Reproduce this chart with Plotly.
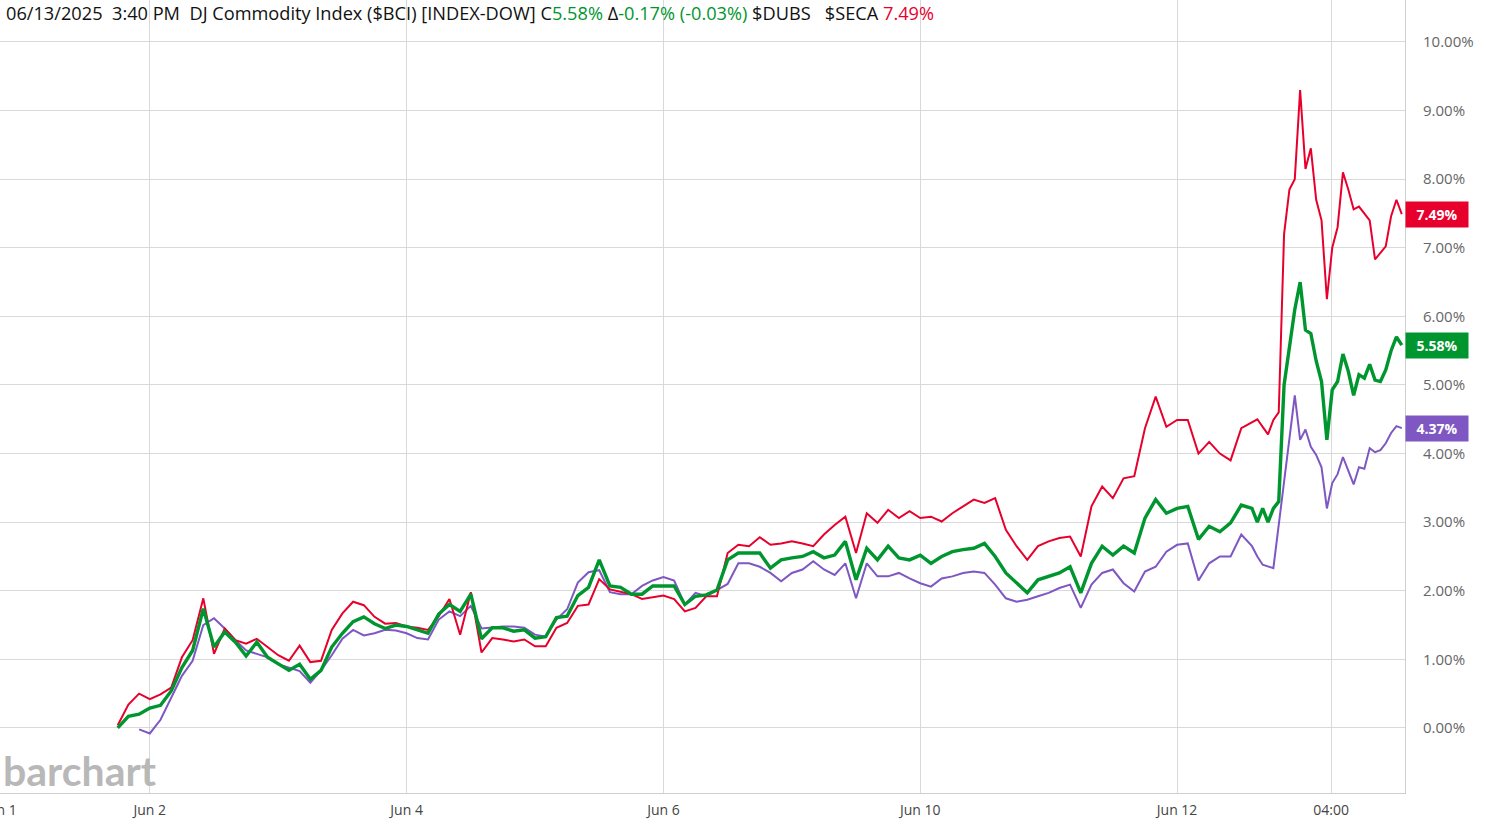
"""
Barchart-style % change comparison: $BCI vs $DUBS vs $SECA (Jun 1 - Jun 13, 2025).
"""

import plotly.graph_objects as go

# ── Theme ────────────────────────────────────────────────────────────────────
RED    = "#e8002d"
GREEN  = "#00962f"
PURPLE = "#7e57c2"
GRID   = "#d9d9d9"
AXIS   = "#cfcfcf"
FONT   = "Open Sans"

# ── Data ─────────────────────────────────────────────────────────────────────
# session hours from Jun 2 00:00 (weekend removed): 2h bars, then 1h bars
hours = list(range(-6, 206, 2)) + list(range(206, 235))

seca = [
    0.04, 0.34, 0.5, 0.42, 0.49, 0.59, 1.03, 1.28, 1.89, 1.08,
    1.45, 1.28, 1.23, 1.3, 1.18, 1.06, 0.98, 1.2, 0.96, 0.98,
    1.43, 1.67, 1.84, 1.79, 1.62, 1.52, 1.53, 1.48, 1.46, 1.43,
    1.63, 1.88, 1.36, 1.98, 1.1, 1.31, 1.29, 1.26, 1.29, 1.19,
    1.19, 1.46, 1.53, 1.78, 1.8, 2.17, 2.02, 1.98, 1.95, 1.88,
    1.9, 1.93, 1.88, 1.7, 1.75, 1.92, 1.92, 2.55, 2.67, 2.65,
    2.78, 2.67, 2.69, 2.72, 2.69, 2.65, 2.82, 2.96, 3.08, 2.55,
    3.13, 2.99, 3.18, 3.06, 3.16, 3.06, 3.08, 3.01, 3.13, 3.23,
    3.33, 3.28, 3.35, 2.89, 2.65, 2.45, 2.65, 2.72, 2.77, 2.79,
    2.5, 3.23, 3.52, 3.35, 3.64, 3.67, 4.37, 4.83, 4.39, 4.49,
    4.49, 4.0, 4.17, 4.0, 3.9, 4.37,
    4.45, 4.5, 4.39, 4.28, 4.49, 4.6, 7.2, 7.85, 8.0, 9.3,
    8.15, 8.45, 7.7, 7.4, 6.25, 7.0, 7.3, 8.1, 7.85, 7.56,
    7.6, 7.5, 7.4, 6.83, 6.93, 7.02, 7.46, 7.7, 7.49,
]

bci = [
    0.0, 0.17, 0.2, 0.29, 0.33, 0.54, 0.88, 1.13, 1.74, 1.18,
    1.4, 1.25, 1.05, 1.25, 1.03, 0.93, 0.84, 0.93, 0.71, 0.84,
    1.18, 1.38, 1.55, 1.62, 1.52, 1.45, 1.5, 1.48, 1.43, 1.38,
    1.66, 1.8, 1.7, 1.95, 1.3, 1.46, 1.46, 1.41, 1.43, 1.31,
    1.33, 1.61, 1.63, 1.93, 2.05, 2.45, 2.07, 2.05, 1.95, 1.95,
    2.07, 2.07, 2.07, 1.8, 1.92, 1.94, 2.01, 2.45, 2.55, 2.55,
    2.55, 2.33, 2.45, 2.48, 2.5, 2.57, 2.48, 2.52, 2.72, 2.16,
    2.62, 2.45, 2.65, 2.48, 2.45, 2.52, 2.4, 2.5, 2.57, 2.6,
    2.62, 2.69, 2.5, 2.26, 2.11, 1.97, 2.16, 2.21, 2.26, 2.35,
    1.97, 2.4, 2.65, 2.52, 2.65, 2.55, 3.06, 3.33, 3.13, 3.2,
    3.23, 2.75, 2.94, 2.86, 2.99, 3.25,
    3.2, 3.0, 3.2, 3.0, 3.2, 3.3, 5.0, 5.55, 6.1, 6.5,
    5.8, 5.75, 5.35, 5.05, 4.2, 4.93, 5.05, 5.45, 5.2, 4.85,
    5.15, 5.1, 5.3, 5.07, 5.05, 5.22, 5.5, 5.7, 5.58,
]

dubs = [
    None, None, -0.02, -0.08, 0.12, 0.45, 0.76, 0.98, 1.5, 1.6,
    1.45, 1.28, 1.13, 1.08, 1.03, 0.93, 0.88, 0.83, 0.66, 0.84,
    1.06, 1.3, 1.43, 1.35, 1.38, 1.43, 1.42, 1.38, 1.31, 1.29,
    1.58, 1.7, 1.63, 1.78, 1.45, 1.47, 1.48, 1.48, 1.46, 1.36,
    1.33, 1.58, 1.73, 2.12, 2.27, 2.3, 1.98, 1.95, 1.95, 2.07,
    2.15, 2.2, 2.15, 1.8, 1.97, 1.92, 2.01, 2.1, 2.4, 2.4,
    2.35, 2.26, 2.14, 2.26, 2.31, 2.43, 2.31, 2.23, 2.4, 1.89,
    2.4, 2.21, 2.21, 2.26, 2.18, 2.11, 2.06, 2.18, 2.21, 2.26,
    2.28, 2.26, 2.09, 1.89, 1.84, 1.87, 1.92, 1.97, 2.04, 2.09,
    1.75, 2.09, 2.26, 2.31, 2.11, 1.99, 2.28, 2.35, 2.57, 2.67,
    2.69, 2.15, 2.4, 2.5, 2.5, 2.82,
    2.65, 2.5, 2.38, 2.35, 2.33, None, None, None, 4.85, 4.2,
    4.35, 4.1, 3.98, 3.8, 3.2, 3.57, 3.7, 3.95, 3.75, 3.55,
    3.8, 3.78, 4.08, 4.02, 4.05, 4.15, 4.3, 4.4, 4.37,
]

tick_hours  = [-27.9, 0, 48, 96, 144, 192, 220.8]
tick_labels = ["Jun 1", "Jun 2", "Jun 4", "Jun 6", "Jun 10", "Jun 12", "04:00"]
pct_ticks   = list(range(0, 11))

bci_change, bci_change_pct = -0.17, -0.03


# ── Figure ───────────────────────────────────────────────────────────────────
fig = go.Figure()

series = [
    ("$DUBS", dubs, PURPLE, 2),
    ("$SECA", seca, RED, 2),
    ("$BCI",  bci,  GREEN, 3.4),
]
for name, vals, colour, width in series:
    fig.add_trace(go.Scatter(
        x=hours, y=vals, name=name, mode="lines",
        line=dict(color=colour, width=width),
        connectgaps=True, showlegend=False, hoverinfo="skip",
    ))

# last-value tags on the right axis
for name, vals, colour, _ in series:
    last = vals[-1]
    fig.add_annotation(
        xref="paper", x=1, xanchor="left", xshift=0,
        yref="y", y=last, yanchor="middle",
        text=f"<b>{last:.2f}%</b>", showarrow=False,
        font=dict(family=FONT, size=14, color="white"),
        bgcolor=colour, width=56, height=19, borderpad=3, align="center",
    )

# header line
g = lambda s: f"<span style='color:{GREEN}'>{s}</span>"
r = lambda s: f"<span style='color:{RED}'>{s}</span>"
nb = "\u00a0"
header = (
    f"06/13/2025{nb*2}3:40 PM{nb*2}DJ Commodity Index ($BCI) [INDEX-DOW] "
    f"C{g(f'{bci[-1]:.2f}%')} Δ{g(f'{bci_change:.2f}% ({bci_change_pct:.2f}%)')} "
    f"$DUBS{nb*3}$SECA {r(f'{seca[-1]:.2f}%')}"
)
fig.add_annotation(
    xref="paper", x=0, xanchor="left", xshift=4,
    yref="paper", y=1, yanchor="top", yshift=1,
    text=header, showarrow=False,
    font=dict(family=FONT, size=18.2, color="#111111"),
)

# watermark
fig.add_annotation(
    xref="paper", x=0, xanchor="left", xshift=1,
    yref="y", y=-0.62, yanchor="middle",
    text="<b>barchart</b>", showarrow=False,
    font=dict(family="Lato", size=41, color="#b8b8b8"),
)

fig.update_layout(
    width=1486, height=826,
    margin=dict(l=0, r=81, t=0, b=33),
    paper_bgcolor="white", plot_bgcolor="white",
    font=dict(family=FONT, size=13, color="#555555"),
    xaxis=dict(
        range=[-28.0, 234.6],
        tickmode="array", tickvals=tick_hours, ticktext=tick_labels,
        showgrid=True, gridcolor=GRID, gridwidth=1,
        showline=True, linecolor=AXIS, linewidth=1,
        ticks="", zeroline=False, automargin=False,
        ticklabeloverflow="allow", ticklabelstandoff=4,
        tickfont=dict(family=FONT, size=14, color="#444444"),
    ),
    yaxis=dict(
        range=[-0.948, 10.612], side="right",
        tickmode="array", tickvals=pct_ticks,
        ticktext=[f"{v:.2f}%" for v in pct_ticks],
        showgrid=True, gridcolor=GRID, gridwidth=1,
        showline=True, linecolor=AXIS, linewidth=1, mirror=False,
        ticks="", zeroline=False, automargin=False,
        ticklabelstandoff=14,
        tickfont=dict(family=FONT, size=15, color="#666666"),
    ),
)

# the page should start at the window's corner, as in the screenshot
fig.write_html(
    "out.html",
    config={"displayModeBar": False},
    post_script="document.body.style.margin = '0';",
)
